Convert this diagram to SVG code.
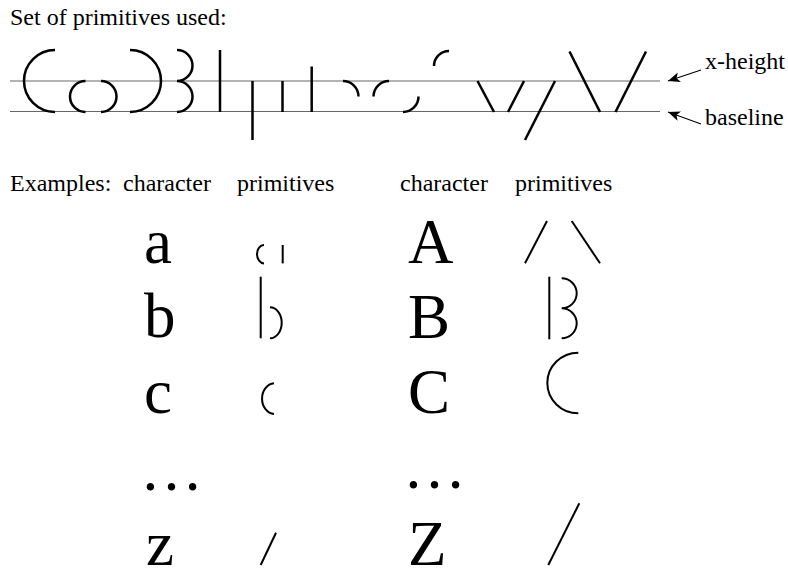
<svg xmlns="http://www.w3.org/2000/svg" width="788" height="569" viewBox="0 0 788 569">
<style>
text{font-family:"Liberation Serif","Times New Roman",serif;fill:#000}
.lbl{font-size:24px}
.big{font-size:63px}
.guide{stroke:#666;stroke-width:1;fill:none}
.prim{stroke:#000;stroke-width:2.5;fill:none;stroke-linecap:butt}
.ex{stroke:#000;stroke-width:2;fill:none}
.arr{stroke:#000;stroke-width:1.2;fill:none}
</style>
<defs>
<marker id="ah" markerUnits="userSpaceOnUse" markerWidth="14" markerHeight="10" refX="12" refY="5" orient="auto">
<path d="M0,0 L12,5 L0,10 L3,5 Z" fill="#000"/>
</marker>
</defs>
<rect width="788" height="569" fill="#fff"/>
<g id="title"><text class="lbl" x="10" y="25">Set of primitives used:</text></g>
<g id="guides">
<line class="guide" x1="10" y1="81" x2="660" y2="81"/>
<line class="guide" x1="10" y1="111.5" x2="660" y2="111.5"/>
</g>
<g id="primitives">
<path class="prim" d="M55,50 A31,31 0 0 0 55,112"/>
<path class="prim" d="M85.5,81 A15.5,15.5 0 0 0 85.5,112"/>
<path class="prim" d="M101,81 A15.5,15.5 0 0 1 101,112"/>
<path class="prim" d="M130,50 A31,31 0 0 1 130,112"/>
<path class="prim" d="M177,50 A15.5,15.5 0 0 1 177,81 A15.5,15.5 0 0 1 177,112"/>
<line class="prim" x1="220" y1="50" x2="220" y2="112"/>
<line class="prim" x1="252.5" y1="81" x2="252.5" y2="140"/>
<line class="prim" x1="282.5" y1="81" x2="282.5" y2="112"/>
<line class="prim" x1="311.7" y1="66.5" x2="311.7" y2="112"/>
<path class="prim" d="M343,81 A15.5,15.5 0 0 1 358.5,96.5"/>
<path class="prim" d="M373.5,96.5 A15.5,15.5 0 0 1 389,81"/>
<path class="prim" d="M403,112 A15.5,15.5 0 0 0 418.5,96.5"/>
<path class="prim" d="M434,66 A15,15 0 0 1 449,51"/>
<line class="prim" x1="477.5" y1="81" x2="494" y2="112"/>
<line class="prim" x1="524" y1="81" x2="508" y2="112"/>
<line class="prim" x1="555" y1="81" x2="525" y2="140"/>
<line class="prim" x1="569.5" y1="51.5" x2="600" y2="112"/>
<line class="prim" x1="646" y1="51.5" x2="615.5" y2="112"/>
</g>
<g id="labels">
<text class="lbl" x="705" y="69">x-height</text>
<text class="lbl" x="705" y="125">baseline</text>
</g>
<g id="connectors">
<line class="arr" x1="701" y1="70" x2="668" y2="81" marker-end="url(#ah)"/>
<line class="arr" x1="701" y1="124" x2="668" y2="112" marker-end="url(#ah)"/>
</g>
<g id="header">
<text class="lbl" x="10" y="191">Examples:</text>
<text class="lbl" x="123" y="191">character</text>
<text class="lbl" x="237" y="191">primitives</text>
<text class="lbl" x="400" y="191">character</text>
<text class="lbl" x="515" y="191">primitives</text>
</g>
<g id="ex-a">
<text class="big" x="144" y="263">a</text>
<path class="ex" d="M264,245 A7,9.2 0 0 0 264,263.4"/>
<line class="ex" x1="282.7" y1="245" x2="282.7" y2="263.4"/>
</g>
<g id="ex-b">
<text class="big" x="144" y="337">b</text>
<line class="ex" x1="260.7" y1="276.7" x2="260.7" y2="338.3"/>
<path class="ex" d="M270,307.3 A11.7,15.5 0 0 1 270,338.3"/>
</g>
<g id="ex-c">
<text class="big" x="144" y="413">c</text>
<path class="ex" d="M274,383.3 A13,15.4 0 0 0 274,414"/>
</g>
<g id="ex-dots1"><text class="big" x="140" y="490">…</text></g>
<g id="ex-z">
<text class="big" x="146" y="565">z</text>
<line class="ex" x1="276" y1="532.7" x2="260.7" y2="565"/>
</g>
<g id="ex-A">
<text class="big" x="408" y="263">A</text>
<line class="ex" x1="547" y1="221" x2="525" y2="263.3"/>
<line class="ex" x1="571.7" y1="221" x2="600" y2="263.3"/>
</g>
<g id="ex-B">
<text class="big" x="408" y="338">B</text>
<line class="ex" x1="549.3" y1="276.7" x2="549.3" y2="339.3"/>
<path class="ex" d="M561.7,278.3 A15,15 0 0 1 561.7,308.3 A15,15 0 0 1 561.7,338.3"/>
</g>
<g id="ex-C">
<text class="big" x="408" y="412.5">C</text>
<path class="ex" d="M578.3,352.7 A31,30.3 0 0 0 578.3,413.3"/>
</g>
<g id="ex-dots2"><text class="big" x="403" y="488">…</text></g>
<g id="ex-Z">
<text class="big" x="408" y="565">Z</text>
<line class="ex" x1="579.3" y1="503.3" x2="548.3" y2="565"/>
</g>
</svg>
